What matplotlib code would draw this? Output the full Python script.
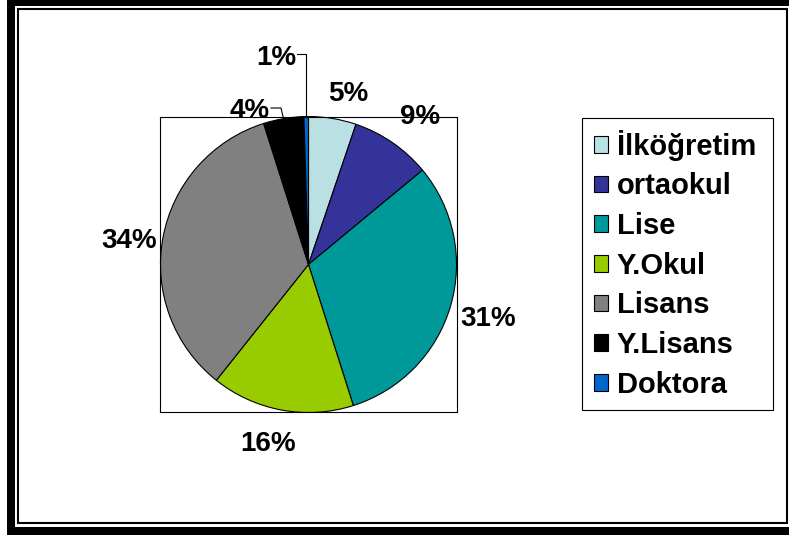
import matplotlib
matplotlib.use('Agg')
import matplotlib.pyplot as plt
from matplotlib.patches import Rectangle
import numpy as np

# Eğitim durumu dağılımı (yüzde)
categories = ['İlköğretim', 'ortaokul', 'Lise', 'Y.Okul', 'Lisans', 'Y.Lisans', 'Doktora']
values = [5.2, 8.8, 31.1, 15.6, 34.4, 4.4, 0.5]
pct_labels = ['5%', '9%', '31%', '16%', '34%', '4%', '1%']
colors = ['#BBE0E3', '#333399', '#009999', '#99CC00', '#808080', '#000000', '#0066CC']

W, H = 789, 535
fig = plt.figure(figsize=(W / 100, H / 100), dpi=100)
plt.rcParams['font.family'] = ['Liberation Sans', 'DejaVu Sans']

# Dış çerçeve (piksel koordinatları)
bg = fig.add_axes([0, 0, 1, 1], zorder=0)
bg.set_xlim(0, W)
bg.set_ylim(H, 0)
bg.axis('off')
bg.add_patch(Rectangle((7, 0), W - 7, H, facecolor='black', edgecolor='none'))
bg.add_patch(Rectangle((15, 6), W - 15, 521, facecolor='white', edgecolor='none'))
bg.add_patch(Rectangle((18, 9), 769, 514, facecolor='none', edgecolor='black', linewidth=1.5))

# Pasta grafiği alanı
cx, cy, R = 308.5, 264.5, 148
ax = fig.add_axes([160 / W, 1 - 412 / H, 297 / W, 295 / H], zorder=1)
wedges, _ = ax.pie(values, colors=colors, startangle=90, counterclock=False, radius=R,
                   wedgeprops=dict(edgecolor='black', linewidth=0.8), frame=True)
ax.set_xlim(-148.5, 148.5)
ax.set_ylim(-147.5, 147.5)
ax.set_aspect('auto')
ax.set_xticks([])
ax.set_yticks([])
for s in ax.spines.values():
    s.set_linewidth(0.8)
    s.set_color('black')


def px(x, y):
    return x - cx, cy - y


label_pos = [(348, 91), (420, 114), (488, 316), (268, 441), (129, 238), (250, 108), (276, 55)]
for lbl, (lx, ly) in zip(pct_labels, label_pos):
    tx, ty = px(lx, ly)
    ax.text(tx, ty, lbl, ha='center', va='center_baseline', fontsize=20,
            fontweight='bold', clip_on=False)

# Kılavuz çizgileri (4% ve 1%)
for i, pts in [(5, [(271, 108), (281, 108)]), (6, [(297, 54), (305, 54)])]:
    w = wedges[i]
    mid = np.deg2rad((w.theta1 + w.theta2) / 2)
    ex, ey = R * np.cos(mid), R * np.sin(mid)
    xs = [px(*p)[0] for p in pts] + [ex]
    ys = [px(*p)[1] for p in pts] + [ey]
    if i == 6:
        xs[-2] = ex
    ax.plot(xs, ys, color='black', linewidth=0.8, clip_on=False)

# Lejant
leg = fig.legend(wedges, categories, loc='upper left', mode='expand',
                 bbox_to_anchor=(582 / W, 1 - 118 / H, 191 / W, 0), borderaxespad=0,
                 fancybox=False, framealpha=1, edgecolor='black',
                 prop=dict(family='Liberation Sans', weight='bold', size=21),
                 handlelength=0.5, handleheight=0.5, handletextpad=0.3,
                 labelspacing=0.4, borderpad=0.4)
leg.get_frame().set_linewidth(0.8)

fig.savefig('out.png', dpi=100)
